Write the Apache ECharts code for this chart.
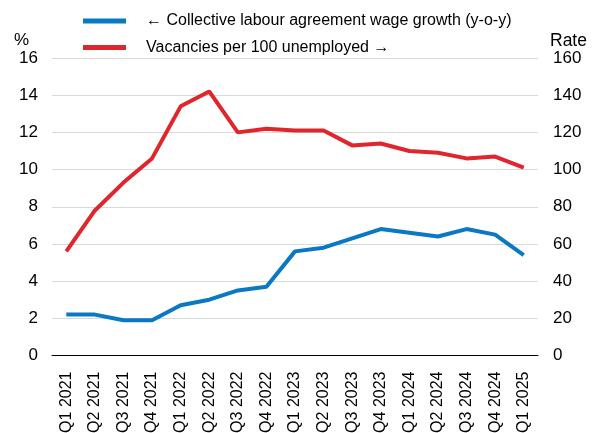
<!DOCTYPE html>
<html>
<head>
<meta charset="utf-8">
<script src="https://cdn.jsdelivr.net/npm/echarts@6/dist/echarts.min.js"></script>
<style>html,body{margin:0;padding:0;background:#fff}#c{width:595px;height:433px}</style>
</head>
<body>
<div id="c"></div>
<script>
const categories = ['Q1 2021','Q2 2021','Q3 2021','Q4 2021','Q1 2022','Q2 2022','Q3 2022','Q4 2022','Q1 2023','Q2 2023','Q3 2023','Q4 2023','Q1 2024','Q2 2024','Q3 2024','Q4 2024','Q1 2025'];
const wageGrowth = [2.2,2.2,1.9,1.9,2.7,3.0,3.5,3.7,5.6,5.8,6.3,6.8,6.6,6.4,6.8,6.5,5.4];
const vacancies = [56,78,93,106,134,142,120,122,121,121,113,114,110,109,106,107,101];
const leftTicks = {min:0, max:16, interval:2};
const rightTicks = {min:0, max:160, interval:20};
const seriesNames = ['← Collective labour agreement wage growth (y-o-y)', 'Vacancies per 100 unemployed →'];

const font = 'Liberation Sans, Arial, sans-serif';
const chart = echarts.init(document.getElementById('c'));
chart.setOption({
  animation: false,
  textStyle: {fontFamily: font},
  legend: {
    orient: 'vertical', left: 83, top: 13, padding: 0, itemWidth: 43, itemHeight: 5, itemGap: 10.5,
    icon: 'rect',
    textStyle: {fontSize: 16, color: '#000', fontFamily: font, padding: [0,0,0,15]},
    data: seriesNames
  },
  grid: {left: 52, right: 57, top: 58, bottom: 77.5, outerBoundsMode: 'none', containLabel: false},
  graphic: [
    {type:'text', left: 14, top: 32, style:{text:'%', font:'17px '+font, fill:'#000'}},
    {type:'text', left: 550, top: 32, style:{text:'Rate', font:'17.5px '+font, fill:'#000'}}
  ],
  xAxis: [{
    type: 'category', data: categories, boundaryGap: true,
    axisLine: {lineStyle: {color: '#000', width: 1}},
    axisTick: {inside: true, length: 3, lineStyle: {color: '#000'}},
    axisLabel: {rotate: 90, fontSize: 16, color: '#000', margin: 16, interval: 0, fontFamily: font}
  },{
    type: 'category', data: categories, boundaryGap: true, position: 'bottom',
    axisLine: {show: false},
    axisTick: {inside: true, length: 7, interval: function(i){return i>0 && i%4===0;}, lineStyle: {color: '#000'}},
    axisLabel: {show: false}
  }],
  yAxis: [{
    type: 'value', min: leftTicks.min, max: leftTicks.max, interval: leftTicks.interval,
    axisLine: {show: false}, axisTick: {show: false},
    axisLabel: {fontSize: 17, color: '#000', margin: 14, fontFamily: font},
    splitLine: {lineStyle: {color: '#d9d9d9', width: 1}}
  },{
    type: 'value', min: rightTicks.min, max: rightTicks.max, interval: rightTicks.interval,
    position: 'right',
    axisLine: {show: false}, axisTick: {show: false},
    axisLabel: {fontSize: 17, color: '#000', margin: 15, fontFamily: font},
    splitLine: {show: false}
  }],
  series: [{
    name: seriesNames[0], type: 'line', data: wageGrowth, yAxisIndex: 0,
    symbol: 'none', lineStyle: {color: '#0a78c2', width: 4}, itemStyle: {color: '#0a78c2'}
  },{
    name: seriesNames[1], type: 'line', data: vacancies, yAxisIndex: 1,
    symbol: 'none', lineStyle: {color: '#e0262d', width: 4}, itemStyle: {color: '#e0262d'}
  }]
});
</script>
</body>
</html>
